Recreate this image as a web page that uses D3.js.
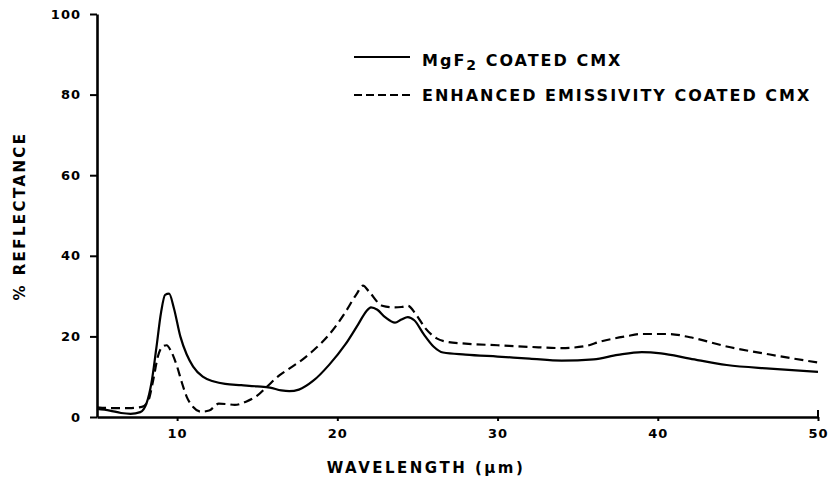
<!DOCTYPE html>
<html>
<head>
<meta charset="utf-8">
<script src="https://cdn.jsdelivr.net/npm/d3@7"></script>
<style>
  html, body { margin: 0; padding: 0; background: #fff; }
  svg { display: block; }
  text { font-family: "DejaVu Sans", "Liberation Sans", sans-serif; font-weight: bold; fill: #000; }
</style>
</head>
<body>
<svg id="chart" width="831" height="484"></svg>
<script>
// ---- data ----
const xTicks = [10, 20, 30, 40, 50];
const yTicks = [0, 20, 40, 60, 80, 100];
const xTitle = "WAVELENGTH (\u03bcm)";
const yTitle = "% REFLECTANCE";
const seriesNames = ["MgF2 COATED CMX", "ENHANCED EMISSIVITY COATED CMX"];

const mgf2Wavelength = [5.0, 5.8, 6.5, 7.1, 7.7, 8.1, 8.4, 8.7, 9.0, 9.25, 9.5, 9.8, 10.2, 10.6, 11.0, 11.6, 12.3, 13.0, 14.0, 15.0, 15.8, 16.5, 17.0, 17.6, 18.5, 19.5, 20.5, 21.3, 21.8, 22.1, 22.5, 23.0, 23.6, 24.0, 24.4, 24.8, 25.4, 26.0, 26.6, 28, 30, 32, 34, 36, 37.5, 39, 40.2, 42, 44.3, 47, 50];
const mgf2Reflectance = [2.0, 1.6, 1.0, 0.8, 1.2, 3.5, 8.5, 17, 26, 30.3, 30.6, 27, 20, 15.5, 12.5, 10, 8.8, 8.2, 7.9, 7.6, 7.3, 6.6, 6.4, 6.8, 9, 13, 18, 23, 26.2, 27.2, 26.6, 24.7, 23.4, 24.2, 24.8, 24, 20.5, 17.5, 16.0, 15.5, 15, 14.5, 14, 14.3, 15.4, 16.1, 15.8, 14.5, 12.9, 12, 11.2];

const eecWavelength = [5.0, 6, 7, 7.8, 8.2, 8.5, 8.8, 9.1, 9.35, 9.6, 10.0, 10.3, 10.6, 11.0, 11.5, 12.0, 12.6, 13.1, 13.6, 14.3, 15.0, 15.6, 16.4, 17.0, 17.8, 18.5, 19.5, 20.5, 21.2, 21.6, 22.0, 22.8, 23.5, 24.0, 24.4, 24.9, 25.5, 26.2, 26.8, 28, 30, 32, 34, 35.5, 36.4, 38, 39, 40.7, 42, 44.3, 47, 50];
const eecReflectance = [2.4, 2.2, 2.2, 2.5, 4, 9, 15, 17.5, 17.8, 16.5, 12.5, 8.5, 5, 2.5, 1.3, 1.6, 3.3, 3.2, 3.0, 3.8, 5.3, 7.5, 10.4, 12, 14.2, 16.5, 20.5, 26, 30.5, 32.6, 31, 27.6, 27.2, 27.3, 27.6, 25.5, 22, 19.5, 18.7, 18.2, 17.8, 17.4, 17.1, 17.6, 18.7, 20, 20.6, 20.6, 19.8, 17.5, 15.5, 13.5];

// ---- layout ----
const svg = d3.select("#chart");
const x = d3.scaleLinear().domain([5, 50]).range([97, 818]);
const y = d3.scaleLinear().domain([0, 100]).range([417, 14]);

const mgf2 = mgf2Wavelength.map((w, i) => [w, mgf2Reflectance[i]]);
const eec = eecWavelength.map((w, i) => [w, eecReflectance[i]]);

const line = d3.line().x(d => x(d[0])).y(d => y(d[1])).curve(d3.curveMonotoneX);

// curves
svg.append("path").datum(mgf2).attr("d", line)
  .attr("fill", "none").attr("stroke", "#000").attr("stroke-width", 2.2).attr("stroke-linejoin", "round");
svg.append("path").datum(eec).attr("d", line)
  .attr("fill", "none").attr("stroke", "#000").attr("stroke-width", 2.2).attr("stroke-dasharray", "9,5");

// axes
const xAxis = svg.append("g").attr("transform", `translate(0,${y(0)})`)
  .call(d3.axisBottom(x).tickValues(xTicks).tickSize(4).tickSizeOuter(0).tickPadding(6));
xAxis.select(".domain").attr("stroke-width", 2.6);
xAxis.selectAll(".tick line").attr("stroke-width", 2);
xAxis.selectAll(".tick text").attr("font-size", 13).attr("letter-spacing", "1px").attr("dy", "0.85em");
// end cap at 50 goes up
xAxis.append("line").attr("x1", x(50)).attr("x2", x(50)).attr("y1", 0).attr("y2", -7)
  .attr("stroke", "#000").attr("stroke-width", 2);

const yAxis = svg.append("g").attr("transform", `translate(${x(5)},0)`)
  .call(d3.axisLeft(y).tickValues(yTicks).tickSize(7).tickSizeOuter(0).tickPadding(9));
yAxis.select(".domain").attr("stroke-width", 2.6);
yAxis.selectAll(".tick line").attr("stroke-width", 2);
yAxis.selectAll(".tick text").attr("font-size", 13).attr("letter-spacing", "1px");

// axis titles
svg.append("text").attr("x", 426).attr("y", 473).attr("text-anchor", "middle")
  .attr("font-size", 15).attr("letter-spacing", "2.5px").text(xTitle);
svg.append("text").attr("transform", "translate(25,216) rotate(-90)").attr("text-anchor", "middle")
  .attr("font-size", 15).attr("letter-spacing", "2.4px").text(yTitle);

// legend
const legend = svg.append("g");
legend.append("line").attr("x1", 354).attr("x2", 410).attr("y1", 57).attr("y2", 57)
  .attr("stroke", "#000").attr("stroke-width", 2);
legend.append("line").attr("x1", 354).attr("x2", 410).attr("y1", 95).attr("y2", 95)
  .attr("stroke", "#000").attr("stroke-width", 2).attr("stroke-dasharray", "8,4");
const t1 = legend.append("text").attr("x", 422).attr("y", 66).attr("font-size", 16).attr("letter-spacing", "2px");
t1.append("tspan").text("MgF");
t1.append("tspan").attr("dy", 4).attr("font-size", 14).text("2");
t1.append("tspan").attr("dy", -4).text(" COATED CMX");
legend.append("text").attr("x", 422).attr("y", 101).attr("font-size", 16).attr("letter-spacing", "2px")
  .text(seriesNames[1]);
</script>
</body>
</html>
